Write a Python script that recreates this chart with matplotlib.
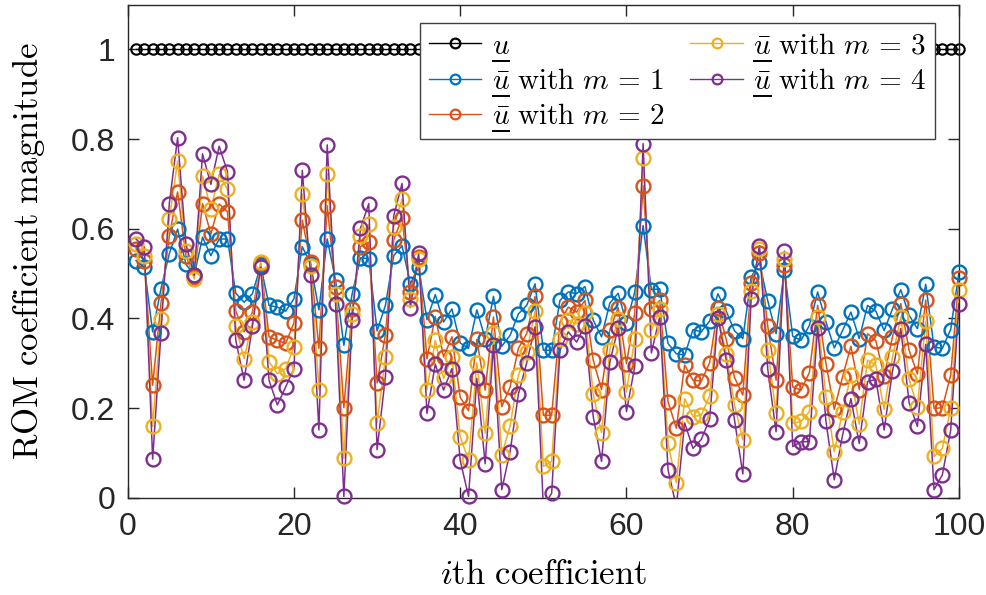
import matplotlib
matplotlib.use('Agg')
import matplotlib.pyplot as plt
from matplotlib.lines import Line2D
from matplotlib.transforms import IdentityTransform
import numpy as np

plt.rcParams['mathtext.fontset'] = 'cm'
plt.rcParams['font.family'] = ['Liberation Sans', 'DejaVu Sans']

# coefficient index
idx = np.arange(1, 101)

u_true = np.ones(100)

m1 = [0.529, 0.514, 0.370, 0.466, 0.544, 0.599, 0.521, 0.496, 0.581, 0.540,
      0.577, 0.577, 0.456, 0.436, 0.455, 0.518, 0.429, 0.425, 0.416, 0.444,
      0.560, 0.521, 0.419, 0.577, 0.486, 0.340, 0.455, 0.535, 0.533, 0.372,
      0.429, 0.540, 0.562, 0.477, 0.514, 0.397, 0.453, 0.392, 0.421, 0.345,
      0.333, 0.419, 0.355, 0.449, 0.338, 0.362, 0.410, 0.429, 0.477, 0.329,
      0.329, 0.440, 0.459, 0.455, 0.471, 0.396, 0.359, 0.434, 0.456, 0.390,
      0.459, 0.607, 0.464, 0.466, 0.344, 0.321, 0.318, 0.375, 0.370, 0.394,
      0.455, 0.416, 0.372, 0.355, 0.492, 0.525, 0.439, 0.366, 0.507, 0.360,
      0.351, 0.384, 0.459, 0.392, 0.334, 0.373, 0.414, 0.355, 0.429, 0.416,
      0.373, 0.421, 0.464, 0.407, 0.377, 0.476, 0.336, 0.333, 0.375, 0.503]

m2 = [0.555, 0.529, 0.251, 0.434, 0.584, 0.682, 0.540, 0.492, 0.656, 0.588,
      0.655, 0.638, 0.416, 0.370, 0.414, 0.523, 0.359, 0.351, 0.344, 0.390,
      0.619, 0.525, 0.333, 0.651, 0.471, 0.201, 0.421, 0.560, 0.570, 0.256,
      0.364, 0.575, 0.624, 0.459, 0.536, 0.310, 0.404, 0.314, 0.359, 0.224,
      0.194, 0.353, 0.240, 0.403, 0.203, 0.247, 0.333, 0.366, 0.449, 0.184,
      0.184, 0.392, 0.425, 0.414, 0.440, 0.307, 0.241, 0.375, 0.424, 0.299,
      0.412, 0.696, 0.421, 0.440, 0.214, 0.155, 0.296, 0.262, 0.260, 0.301,
      0.424, 0.353, 0.268, 0.229, 0.479, 0.545, 0.382, 0.262, 0.518, 0.247,
      0.240, 0.279, 0.429, 0.299, 0.197, 0.270, 0.338, 0.241, 0.366, 0.350,
      0.271, 0.359, 0.433, 0.329, 0.276, 0.441, 0.199, 0.201, 0.273, 0.490]

m3 = [0.566, 0.540, 0.159, 0.398, 0.621, 0.751, 0.551, 0.488, 0.718, 0.644,
      0.721, 0.688, 0.382, 0.310, 0.392, 0.525, 0.303, 0.277, 0.288, 0.336,
      0.677, 0.516, 0.241, 0.723, 0.455, 0.088, 0.410, 0.584, 0.610, 0.167,
      0.313, 0.604, 0.666, 0.444, 0.533, 0.241, 0.351, 0.266, 0.314, 0.136,
      0.084, 0.301, 0.144, 0.367, 0.096, 0.160, 0.273, 0.325, 0.416, 0.070,
      0.081, 0.355, 0.396, 0.388, 0.412, 0.231, 0.145, 0.330, 0.399, 0.236,
      0.355, 0.757, 0.373, 0.421, 0.121, 0.033, 0.221, 0.181, 0.184, 0.227,
      0.410, 0.321, 0.207, 0.129, 0.462, 0.555, 0.330, 0.188, 0.533, 0.166,
      0.170, 0.192, 0.403, 0.225, 0.103, 0.192, 0.273, 0.164, 0.307, 0.296,
      0.197, 0.313, 0.403, 0.264, 0.203, 0.394, 0.092, 0.110, 0.199, 0.464]

m4 = [0.577, 0.559, 0.086, 0.367, 0.656, 0.803, 0.566, 0.496, 0.767, 0.699,
      0.784, 0.727, 0.351, 0.262, 0.382, 0.514, 0.262, 0.207, 0.247, 0.288,
      0.730, 0.496, 0.151, 0.787, 0.433, 0.003, 0.397, 0.601, 0.656, 0.107,
      0.270, 0.629, 0.701, 0.424, 0.545, 0.188, 0.298, 0.240, 0.288, 0.083,
      0.003, 0.266, 0.076, 0.340, 0.018, 0.103, 0.231, 0.301, 0.381, -0.020,
      0.010, 0.329, 0.370, 0.347, 0.384, 0.181, 0.081, 0.303, 0.379, 0.192,
      0.293, 0.790, 0.323, 0.404, 0.062, -0.020, 0.167, 0.110, 0.130, 0.175,
      0.401, 0.307, 0.173, 0.053, 0.444, 0.562, 0.286, 0.147, 0.550, 0.114,
      0.125, 0.125, 0.379, 0.170, 0.040, 0.140, 0.221, 0.121, 0.259, 0.264,
      0.151, 0.282, 0.377, 0.212, 0.159, 0.342, 0.018, 0.051, 0.150, 0.433]

# no \underline in mathtext -> underline is drawn by hand further down
labels = [r'$u$',
          r'$\bar{u}\ \mathrm{with}\ m\,=\,1$',
          r'$\bar{u}\ \mathrm{with}\ m\,=\,2$',
          r'$\bar{u}\ \mathrm{with}\ m\,=\,3$',
          r'$\bar{u}\ \mathrm{with}\ m\,=\,4$']
colors = ['k', '#0072BD', '#D95319', '#EDB120', '#7E2F8E']
leg_fs = 21

fig = plt.figure(figsize=(9.87, 5.95), dpi=100)
ax = fig.add_axes([0.1294, 0.1635, 0.8422, 0.8289])

# black reference
ax.plot(idx, u_true, '-', color='k', lw=1.0, marker='o', mfc='none',
        ms=7.5, mew=1.5, clip_on=False, zorder=2)

for series, c in zip([m1, m2, m3, m4], colors[1:]):
    y = np.array(series)
    ax.plot(idx, y, '-', color=c, lw=1.1, zorder=2)
    ok = y >= 0
    ax.plot(idx[ok], y[ok], 'o', color=c, mfc='none', ms=10, mew=1.7,
            clip_on=False, zorder=3)

handles = [Line2D([], [], color=c, lw=1.0, marker='o', mfc='none', ms=7, mew=1.6)
           for c in colors]
leg = ax.legend(handles, labels, ncol=2, loc='upper right',
                bbox_to_anchor=(0.971, 0.963), fontsize=leg_fs, frameon=True,
                fancybox=False, framealpha=1, edgecolor='#404040',
                handlelength=1.8, handletextpad=0.35, columnspacing=0.9,
                labelspacing=0.25, borderpad=0.3, borderaxespad=0)
leg.get_frame().set_linewidth(1.0)
leg.set_zorder(5)

ax.set_xlim(0, 100)
ax.set_ylim(0, 1.1)
ax.set_xticks([0, 20, 40, 60, 80, 100])
ax.set_yticks([0, 0.2, 0.4, 0.6, 0.8, 1])
ax.set_yticklabels(['0', '0.2', '0.4', '0.6', '0.8', '1'])
ax.tick_params(direction='in', length=8, width=1, top=True, right=True,
               labelsize=23, colors='#262626')
ax.tick_params(axis='x', pad=10)
ax.tick_params(axis='y', pad=9)
for s in ax.spines.values():
    s.set_color('#262626')
    s.set_linewidth(1.0)

ax.set_xlabel(r'$i\mathrm{th\ coefficient}$', fontsize=25, labelpad=12)
ax.set_ylabel(r'$\mathrm{ROM\ coefficient\ magnitude}$', fontsize=25, labelpad=17)

# underline the u in every legend entry
fig.canvas.draw()
r = fig.canvas.get_renderer()
probe = fig.text(0, 0, r'$u$', fontsize=leg_fs)
uw = probe.get_window_extent(r).width
probe.remove()
for t in leg.get_texts():
    bb = t.get_window_extent(r)
    y0 = bb.y0 - 1
    fig.add_artist(Line2D([bb.x0 + 1, bb.x0 + uw], [y0, y0], transform=IdentityTransform(),
                          color='k', lw=1.4, zorder=10))

fig.savefig('out.png', dpi=100)
